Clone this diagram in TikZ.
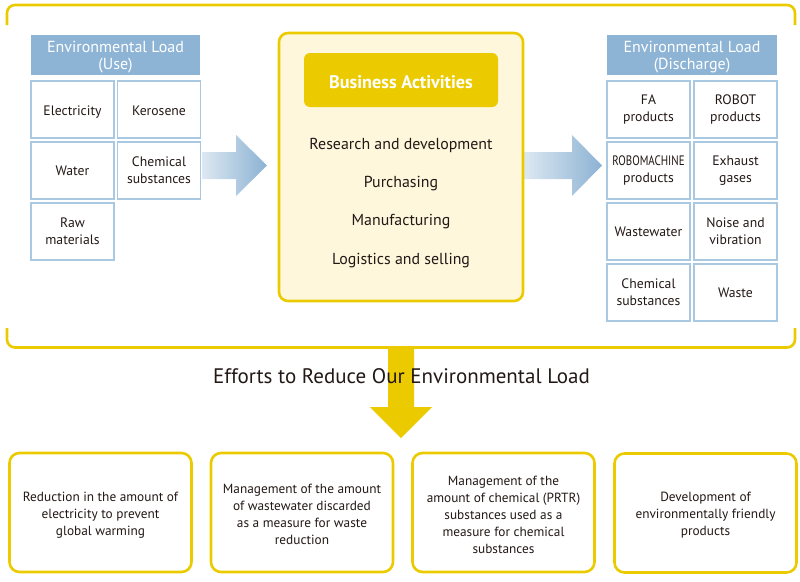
\documentclass[tikz,border=0pt]{standalone}
\usepackage{fontspec}
\setmainfont{PT Sans}
\usepackage{graphicx}
\definecolor{ylw}{HTML}{EBCB00}
\definecolor{paleylw}{HTML}{FEF7DC}
\definecolor{hdrblue}{HTML}{8EB4D5}
\definecolor{cellblue}{HTML}{A9C9E2}
\definecolor{arrowlight}{HTML}{DDE8F2}
\definecolor{arrowdark}{HTML}{8CB2D3}
\definecolor{txt}{HTML}{231815}
\newcommand{\lowr}[2]{\raisebox{-#1}[\height][\depth]{#2}}
\newcommand{\hdrtwo}[2]{\raisebox{-3pt}[\height][\depth]{\begin{tabular}{@{}c@{}}#1\\#2\end{tabular}}}
\tikzset{
  cellbox/.style={draw=cellblue, line width=1.3pt, minimum width=83pt, minimum height=57pt,
    inner sep=0pt, align=center, text=txt, font=\fontsize{13.7}{16.7}\selectfont},
  hdrbox/.style={fill=hdrblue, minimum height=40pt, inner sep=0pt, align=center, text=white,
    font=\fontsize{16}{17}\selectfont},
  itemtext/.style={text=txt, font=\fontsize{15.9}{18}\selectfont, inner sep=0pt},
  effortbox/.style={draw=ylw, line width=2.6pt, rounded corners=10pt, minimum width=182pt,
    minimum height=119pt, inner sep=0pt},
  efforttext/.style={align=center, text=txt, font=\fontsize{13.3}{17}\selectfont, inner sep=0pt},
}
\begin{document}
\begin{tikzpicture}[x=1pt,y=-1pt]
\useasboundingbox (0,0) rectangle (800,581);
% outer bracket frame
\draw[ylw, line width=2.6pt, rounded corners=8pt] (7,25) -- (7,5) -- (795,5) -- (795,25);
\draw[ylw, line width=2.6pt, rounded corners=8pt] (7,328) -- (7,347.5) -- (795,347.5) -- (795,328);

% left load panel
\node[hdrbox, minimum width=169pt] (luse) at (115.5,55) {\hdrtwo{Environmental Load}{(Use)}};
\node[cellbox] (lc11) at (72.5,109.5) {\lowr{3pt}{Electricity}};
\node[cellbox] (lc12) at (159,109.5) {\lowr{1pt}{Kerosene}};
\node[cellbox] (lc21) at (72.5,170.5) {Water};
\node[cellbox] (lc22) at (159,170.5) {Chemical\\substances};
\node[cellbox] (lc31) at (72.5,231.5) {Raw\\materials};

% right load panel
\node[hdrbox, minimum width=170pt] (rdis) at (692,55) {\hdrtwo{Environmental Load}{(Discharge)}};
\node[cellbox] (rc11) at (648.5,109.5) {FA\\products};
\node[cellbox] (rc12) at (735.5,109.5) {ROBOT\\products};
\node[cellbox] (rc21) at (648.5,170.5) {\scalebox{0.8}[1]{ROBOMACHINE}\\products};
\node[cellbox] (rc22) at (735.5,170.5) {Exhaust\\gases};
\node[cellbox] (rc31) at (648.5,231.5) {Wastewater};
\node[cellbox] (rc32) at (735.5,231.5) {Noise and\\vibration};
\node[cellbox] (rc41) at (648.5,292.5) {Chemical\\substances};
\node[cellbox] (rc42) at (735.5,292.5) {Waste};

% block arrows (gradient)
\shade[left color=arrowlight, right color=arrowdark]
  (202,152) -- (236,152) -- (236,135) -- (267,165.5) -- (236,196) -- (236,179) -- (202,179) -- cycle;
\shade[left color=arrowlight, right color=arrowdark]
  (524,152) -- (572,152) -- (572,135) -- (602,165.5) -- (572,196) -- (572,179) -- (524,179) -- cycle;

% centre business box
\node[draw=ylw, fill=paleylw, line width=2.6pt, rounded corners=9pt, minimum width=244pt,
  minimum height=268pt, inner sep=0pt] (biz) at (401,167) {};
\node[fill=ylw, rounded corners=6pt, minimum width=194pt, minimum height=54pt, inner sep=0pt,
  text=white, font=\bfseries\fontsize{18.2}{19}\selectfont] (bizhdr) at (401,80) {\lowr{2pt}{Business Activities}};
\node[itemtext] (it1) at (401,145) {Research and development};
\node[itemtext] (it2) at (401,184) {Purchasing};
\node[itemtext] (it3) at (401,222) {Manufacturing};
\node[itemtext] (it4) at (401,261) {Logistics and selling};

% down arrow
\fill[ylw] (388,347) -- (414,347) -- (414,407) -- (432,407) -- (401,438) -- (370,407) -- (388,407) -- cycle;
\node[text=txt, font=\fontsize{21}{23}\selectfont, inner sep=0pt] (title) at (401.5,376)
  {Efforts to Reduce Our Environmental Load};

% effort boxes
\node[effortbox] (e1) at (100.5,512.5) {};
\node[effortbox] (e2) at (302,512.5) {};
\node[effortbox] (e3) at (503.5,512.5) {};
\node[effortbox] (e4) at (705.5,513) {};
\node[efforttext] (t1) at (100.5,515.5) {Reduction in the amount of\\electricity to prevent\\global warming};
\node[efforttext] (t2) at (302,514.5) {Management of the amount\\of wastewater discarded\\as a measure for waste\\reduction};
\node[efforttext] (t3) at (503.5,515) {Management of the\\amount of chemical (PRTR)\\substances used as a\\measure for chemical\\substances};
\node[efforttext] (t4) at (705.5,515.5) {Development of\\environmentally friendly\\products};
\end{tikzpicture}
\end{document}
